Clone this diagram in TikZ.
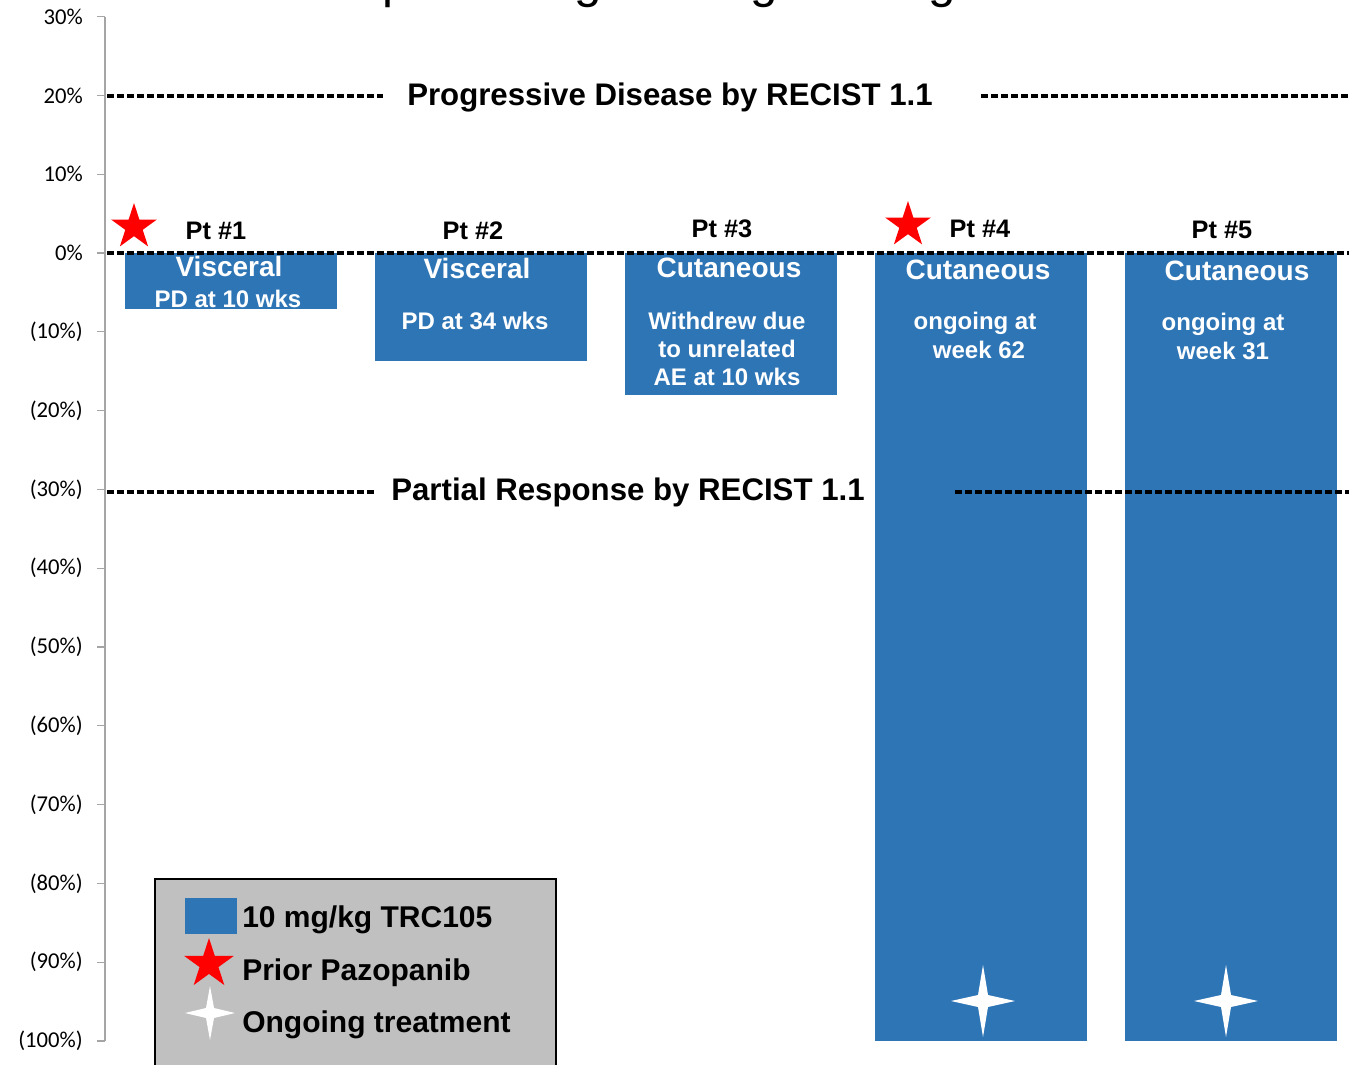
\documentclass[tikz,border=0pt]{standalone}
\usepackage{fontspec}
\setmainfont{Liberation Sans}
\newfontfamily\axisfont{Carlito}
\usetikzlibrary{shapes.geometric}
\definecolor{barblue}{RGB}{46,117,182}
\definecolor{legendgray}{RGB}{192,192,192}
\definecolor{axisgray}{RGB}{165,165,165}
\begin{document}
\begin{tikzpicture}[x=0.75pt,y=-0.75pt,
  bar/.style={fill=barblue, draw=none},
  refline/.style={line width=2.6pt, dash pattern=on 5.25pt off 2.25pt},
  ticklbl/.style={font=\axisfont\fontsize{17}{19}\selectfont, anchor=east, inner sep=0},
  ptlbl/.style={font=\bfseries\fontsize{19}{21}\selectfont, anchor=base, inner sep=0},
  barhead/.style={font=\bfseries\fontsize{21}{24}\selectfont, text=white, anchor=base, inner sep=0},
  barnote/.style={font=\bfseries\fontsize{18}{21}\selectfont, text=white, anchor=base, inner sep=0},
  bandlbl/.style={font=\bfseries\fontsize{23.4}{26}\selectfont, anchor=base, inner sep=0},
  redstar/.style={star, star points=5, star point ratio=2.618, fill=red, draw=none, inner sep=0, minimum size=36pt},
  legtext/.style={font=\bfseries\fontsize{22.5}{26}\selectfont, anchor=base west, inner sep=0}]
\useasboundingbox (0,0) rectangle (1349,1064);

% chart title, running off the top edge
\begin{scope}
  \clip (0,0) rectangle (1349,1064);
  \node[font=\fontsize{37}{41}\selectfont, anchor=base, inner sep=0] (title) at (660,-3)
    {Maximum percentage change in target lesions};
\end{scope}

% bars
\fill[bar] (125,253) rectangle (337,309);
\fill[bar] (375,253) rectangle (587,361);
\fill[bar] (625,253) rectangle (837,395);
\fill[bar] (875,253) rectangle (1087,1041);
\fill[bar] (1125,253) rectangle (1337,1041);

% value axis
\draw[axisgray, line width=1.5pt] (105,17) -- (105,1041);
\foreach \v/\lab in {30/30\%, 20/20\%, 10/10\%, 0/0\%, -10/(10\%), -20/(20\%), -30/(30\%),
    -40/(40\%), -50/(50\%), -60/(60\%), -70/(70\%), -80/(80\%), -90/(90\%), -100/(100\%)} {
  \draw[axisgray, line width=1pt] (97,253-7.88*\v) -- (105,253-7.88*\v);
  \node[ticklbl] (tick\v) at (83,253-7.88*\v) {\lab};
}

% RECIST reference lines
\draw[refline] (107,253) -- (1349,253);
\draw[refline] (107,96) -- (383,96);
\draw[refline] (981,96) -- (1349,96);
\node[bandlbl] (pd) at (670,105) {Progressive Disease by RECIST 1.1};
\draw[refline] (107,492) -- (374,492);
\draw[refline] (955,492) -- (1349,492);
\node[bandlbl] (pr) at (628,500) {Partial Response by RECIST 1.1};

% patient labels
\node[ptlbl] (pt1) at (216,239) {Pt \#1};
\node[ptlbl] (pt2) at (473,239) {Pt \#2};
\node[ptlbl] (pt3) at (722,237) {Pt \#3};
\node[ptlbl] (pt4) at (980,237) {Pt \#4};
\node[ptlbl] (pt5) at (1222,238) {Pt \#5};
\node[redstar] (star1) at (134,227) {};
\node[redstar] (star4) at (908,225) {};

% bar texts
\node[barhead] (h1) at (229,276) {Visceral};
\node[barnote] (n1a) at (228,307) {PD at 10 wks};
\node[barhead] (h2) at (477,278) {Visceral};
\node[barnote] (n2a) at (475,329) {PD at 34 wks};
\node[barhead] (h3) at (729,277) {Cutaneous};
\node[barnote] (n3a) at (727,329) {Withdrew due};
\node[barnote] (n3b) at (727,357) {to unrelated};
\node[barnote] (n3c) at (727,385) {AE at 10 wks};
\node[barhead] (h4) at (978,279) {Cutaneous};
\node[barnote] (n4a) at (975,329) {ongoing at};
\node[barnote] (n4b) at (979,358) {week 62};
\node[barhead] (h5) at (1237,280) {Cutaneous};
\node[barnote] (n5a) at (1223,330) {ongoing at};
\node[barnote] (n5b) at (1223,359) {week 31};

% ongoing-treatment marks
\foreach \cx in {983,1226} {
  \begin{scope}[shift={(\cx,1001)}]
    \fill[white] (0,-36) -- (5,-6) -- (32,0) -- (5,6) -- (0,36) -- (-5,6) -- (-32,0) -- (-5,-6) -- cycle;
  \end{scope}
}

% legend
\draw[fill=legendgray, line width=2.2pt] (155,879) rectangle (556,1080);
\fill[barblue] (185,898) rectangle (237,934);
\node[legtext] (l1) at (242,927) {10 mg/kg TRC105};
\node[redstar, minimum size=39pt] (lstar) at (209,964) {};
\node[legtext] (l2) at (242,980) {Prior Pazopanib};
\begin{scope}[shift={(210,1013)}]
  \fill[white] (0,-27) -- (4,-5) -- (25,0) -- (4,5) -- (0,27) -- (-4,5) -- (-25,0) -- (-4,-5) -- cycle;
\end{scope}
\node[legtext] (l3) at (242,1032) {Ongoing treatment};
\end{tikzpicture}
\end{document}
